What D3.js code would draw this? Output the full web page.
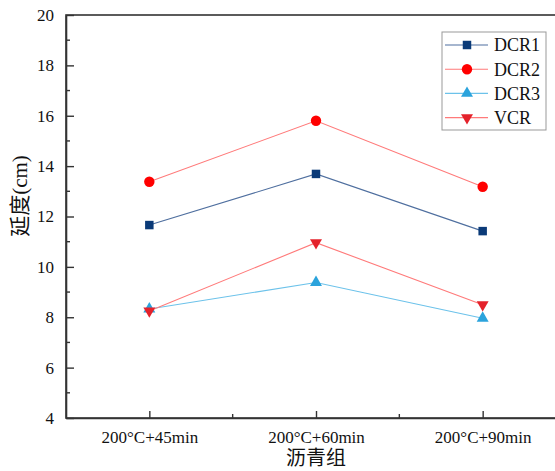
<!DOCTYPE html>
<html>
<head>
<meta charset="utf-8">
<script src="https://cdn.jsdelivr.net/npm/d3@7"></script>
<style>
  html, body { margin: 0; padding: 0; background: #fff; }
  svg { display: block; }
  svg text { font-family: "Liberation Serif", "Times New Roman", "DejaVu Serif", serif; }
  svg text.cjk { font-family: "Liberation Serif", "Noto Sans CJK SC", serif; }
</style>
</head>
<body>
<div id="chart"></div>
<script>
const width = 555;
const height = 471;

// Data
const categories = ["200°C+45min", "200°C+60min", "200°C+90min"];
const dcr1 = [11.66, 13.69, 11.42];
const dcr2 = [13.38, 15.8, 13.18];
const dcr3 = [8.33, 9.38, 7.96];
const vcr = [8.25, 10.96, 8.5];
const yTicks = [4, 6, 8, 10, 12, 14, 16, 18, 20];

const series = [
    { name: "DCR1", values: dcr1, color: "#0a3a78", line: "#4f6f9f", symbol: d3.symbolSquare, size: 72, rot: 0 },
    { name: "DCR2", values: dcr2, color: "#ff0000", line: "#ff7a7a", symbol: d3.symbolCircle, size: 85, rot: 0 },
    { name: "DCR3", values: dcr3, color: "#2ba3dc", line: "#6cc2ea", symbol: d3.symbolTriangle, size: 62, rot: 0 },
    { name: "VCR", values: vcr, color: "#e4222b", line: "#ff7a7a", symbol: d3.symbolTriangle, size: 62, rot: 180 }
];

const margin = { left: 66, top: 15, right: -11, bottom: 53 };

const svg = d3.select("#chart")
    .append("svg")
    .attr("width", width)
    .attr("height", height);

svg.append("rect")
    .attr("width", width)
    .attr("height", height)
    .attr("fill", "#fff");

// x: categories at 1,2,3 with half-step padding
const x = d3.scaleLinear()
    .domain([0.5, 3.5])
    .range([margin.left, width - margin.right]);

const y = d3.scaleLinear()
    .domain([4, 20])
    .range([height - margin.bottom, margin.top]);

const axisColor = "#333";

// frame (top line, right side falls outside the picture)
svg.append("rect")
    .attr("x", x(0.5))
    .attr("y", y(20))
    .attr("width", x(3.5) - x(0.5))
    .attr("height", y(4) - y(20))
    .attr("fill", "none")
    .attr("stroke", axisColor)
    .attr("stroke-width", 1.6);

// y axis, ticks pointing inward
const yAxis = svg.append("g")
    .attr("transform", `translate(${x(0.5)},0)`)
    .call(d3.axisLeft(y).tickValues(yTicks).tickSize(-8).tickPadding(12).tickSizeOuter(0));
yAxis.attr("font-family", null);
yAxis.select(".domain").attr("stroke", axisColor).attr("stroke-width", 1.6);
yAxis.selectAll(".tick line").attr("stroke", axisColor).attr("stroke-width", 1.4);
yAxis.selectAll("text")
    .attr("font-size", 17)
    .attr("fill", "#111");

// minor y ticks
svg.append("g")
    .selectAll("line")
    .data(d3.range(5, 20, 2))
    .join("line")
    .attr("x1", x(0.5))
    .attr("x2", x(0.5) + 4)
    .attr("y1", d => y(d))
    .attr("y2", d => y(d))
    .attr("stroke", axisColor)
    .attr("stroke-width", 1.4);

// x axis, ticks pointing inward
const xAxis = svg.append("g")
    .attr("transform", `translate(0,${y(4)})`)
    .call(d3.axisBottom(x).tickValues([1, 2, 3]).tickSize(-7).tickPadding(13)
        .tickFormat(d => categories[d - 1]).tickSizeOuter(0));
xAxis.attr("font-family", null);
xAxis.select(".domain").attr("stroke", axisColor).attr("stroke-width", 1.6);
xAxis.selectAll(".tick line").attr("stroke", axisColor).attr("stroke-width", 1.4);
xAxis.selectAll("text")
    .attr("font-size", 17)
    .attr("fill", "#111");

// minor x ticks
svg.append("g")
    .selectAll("line")
    .data([1.5, 2.5])
    .join("line")
    .attr("x1", d => x(d))
    .attr("x2", d => x(d))
    .attr("y1", y(4))
    .attr("y2", y(4) - 4)
    .attr("stroke", axisColor)
    .attr("stroke-width", 1.4);

// axis titles
svg.append("text")
    .attr("class", "cjk")
    .attr("x", x(2))
    .attr("y", 465)
    .attr("text-anchor", "middle")
    .attr("font-size", 20)
    .attr("fill", "#111")
    .text("沥青组");

svg.append("text")
    .attr("class", "cjk")
    .attr("transform", `translate(27,196) rotate(-90)`)
    .attr("text-anchor", "middle")
    .attr("font-size", 21)
    .attr("fill", "#111")
    .text("延度(cm)");

// lines and markers
const line = d3.line()
    .x((d, i) => x(i + 1))
    .y(d => y(d));

series.forEach(s => {
    svg.append("path")
        .datum(s.values)
        .attr("d", line)
        .attr("fill", "none")
        .attr("stroke", s.line)
        .attr("stroke-width", 1.1);

    svg.append("g")
        .selectAll("path")
        .data(s.values)
        .join("path")
        .attr("d", d3.symbol().type(s.symbol).size(s.size))
        .attr("transform", (d, i) => `translate(${x(i + 1)},${y(d)}) rotate(${s.rot})`)
        .attr("fill", s.color);
});

// legend
const legend = svg.append("g").attr("transform", "translate(442,32)");
legend.append("rect")
    .attr("width", 104)
    .attr("height", 98)
    .attr("fill", "#fff")
    .attr("stroke", "#999")
    .attr("stroke-width", 1);

const rows = legend.selectAll("g.row")
    .data(series)
    .join("g")
    .attr("class", "row")
    .attr("transform", (d, i) => `translate(0,${13 + i * 24.2})`);

rows.append("line")
    .attr("x1", 3)
    .attr("x2", 46)
    .attr("stroke", d => d.line)
    .attr("stroke-width", 1.1);

rows.append("path")
    .attr("d", d => d3.symbol().type(d.symbol).size(d.size)())
    .attr("transform", d => `translate(25,0) rotate(${d.rot})`)
    .attr("fill", d => d.color);

rows.append("text")
    .attr("x", 52)
    .attr("dy", "0.35em")
    .attr("font-size", 18)
    .attr("fill", "#111")
    .text(d => d.name);
</script>
</body>
</html>
